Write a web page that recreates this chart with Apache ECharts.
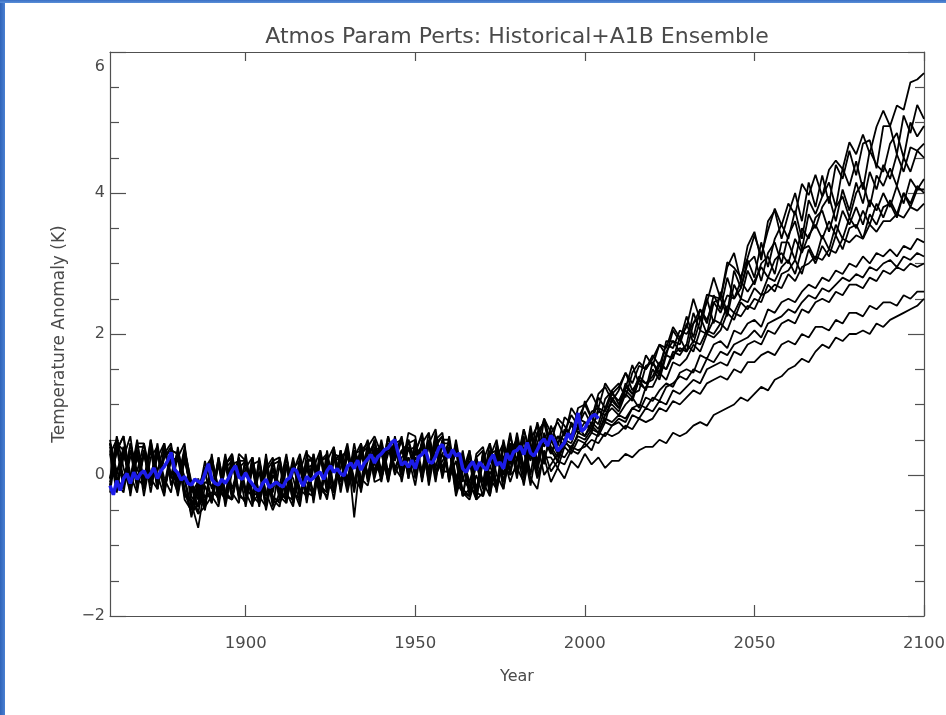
<!DOCTYPE html>
<html>
<head>
<meta charset="utf-8">
<script src="https://cdn.jsdelivr.net/npm/echarts@6/dist/echarts.min.js"></script>
<style>
html,body{margin:0;padding:0;background:#fff;}
#chart{position:absolute;left:0;top:0;width:946px;height:715px;}
#bl{position:absolute;left:0;top:0;width:5px;height:715px;background:linear-gradient(to right,#2f63b8,#4a80d2);}
#bt{position:absolute;left:0;top:0;width:946px;height:3px;background:linear-gradient(to bottom,#3a6fc4,#5a8fd8);}
</style>
</head>
<body>
<div id="chart"></div>
<div id="bl"></div>
<div id="bt"></div>
<script>
const titleText = 'Atmos Param Perts: Historical+A1B Ensemble';
const xName = 'Year';
const yName = 'Temperature Anomaly (K)';
const xTicks = [1900, 1950, 2000, 2050, 2100];

const years = [
1860,1862,1864,1866,1868,1870,1872,1874,1876,1878,1880,1882,1884,1886,1888,1890,1892,1894,1896,1898,
1900,1902,1904,1906,1908,1910,1912,1914,1916,1918,1920,1922,1924,1926,1928,1930,1932,1934,1936,1938,
1940,1942,1944,1946,1948,1950,1952,1954,1956,1958,1960,1962,1964,1966,1968,1970,1972,1974,1976,1978,
1980,1982,1984,1986,1988,1990,1992,1994,1996,1998,2000,2002,2004,2006,2008,2010,2012,2014,2016,2018,
2020,2022,2024,2026,2028,2030,2032,2034,2036,2038,2040,2042,2044,2046,2048,2050,2052,2054,2056,2058,
2060,2062,2064,2066,2068,2070,2072,2074,2076,2078,2080,2082,2084,2086,2088,2090,2092,2094,2096,2098,2100];

const ens01 = [
.45,.05,.35,-.15,.3, -.2,.4,.05,.45,-.05, .3,-.25,-.5,-.1,-.45, .15,-.35,.25,-.3,.1,
.2,-.4,.05,-.45,.1, -.35,.15,-.4,.25,-.1, -.3,.3,-.15,.35,-.1, .4,-.15,.45,0,.5,
.05,.55,.2,.5,-.05, .5,.05,.6,.1,.5, .5,-.15,.3,-.25,.25, .35,-.2,.4,0,.55,
.2,.65,.3,.75,.4, .6,.41,.82,.73,.64, 1.05,.81,.72,1.08,1.19, 1.0,1.23,1.56,1.29,1.22,
1.6,1.45,1.9,1.9,1.85, 2.15,1.87,2.19,2.56,2.53, 2.5,3.02,2.94,2.81,3.08, 3.4,3.11,3.47,3.78,3.54,
3.85,3.69,4.13,3.97,4.26, 3.95,4.33,4.46,4.34,4.72, 4.55,4.83,4.56,4.94,5.17, 4.95,5.24,5.18,5.57,5.61, 5.7];

const ens02 = [
-.25,.4,-.05,.35,-.2, .3,-.15,.35,-.25,.3, -.2,.3,-.15,-.55,.05, -.35,.15,-.4,.2,-.3,
-.35,.15,-.4,.1,-.45, .15,-.4,.2,-.35,.3, .2,-.3,.35,-.2,.35, -.15,.35,-.1,.45,.05,
.45,-.05,.55,.05,.5, -.05,.5,.05,.6,.05, .05,.45,-.3,.3,-.35, .2,.45,-.15,.5,.05,
.6,.1,.7,.15,.8, .45,.8,.7,.55,.95, 1.0,.8,1.15,1.25,1.05, 1.2,1.45,1.2,1.35,1.7,
1.55,1.85,1.8,2.1,1.95, 2.1,2.5,2.2,2.45,2.8, 2.5,2.95,3.15,2.75,3.25, 3.45,3.05,3.6,3.75,3.35,
3.7,4.0,3.6,4.15,3.8, 4.25,3.85,4.4,4.2,4.6, 4.25,4.7,4.75,4.35,4.95, 4.95,4.55,5.1,4.85,5.25, 5.05];

const ens03 = [
.45,-.1,.3,-.05,.5, -.15,.45,-.2,.35,0, .35,-.05,-.6,-.2,.1, .25,-.3,.15,.3,-.35,
.1,.25,-.3,.15,-.35, -.45,.1,-.05,-.4,.2, -.35,.2,.3,-.25,.25, .35,-.05,-.2,.4,.55,
.3,-.05,.45,.1,.6, .55,-.1,.45,.65,0, .4,-.2,.25,-.1,-.35, -.25,.3,.35,-.1,.45,
-.05,.55,0,.6,.75, .3,.55,.4,.75,.6, .65,.9,.95,.75,1.1, .95,1.3,1.15,1.2,1.55,
1.6,1.4,1.75,1.9,1.75, 1.85,2.3,2.05,2.5,2.15, 2.6,2.3,2.9,2.65,3.05, 2.8,3.3,2.95,3.35,3.55,
3.35,3.75,3.35,3.9,3.7, 3.95,4.15,3.8,4.35,4.1, 4.45,4.05,4.6,4.4,4.3, 4.7,4.85,4.5,5.0,4.8, 4.95];

const ens04 = [
-.05,.55,.1,-.25,.4, .4,-.05,-.2,.3,.45, -.2,.35,-.4,-.75,-.15, -.4,.25,-.25,-.35,.25,
-.25,-.45,.25,-.3,.2, .25,-.25,-.45,.2,-.3, .3,-.25,.25,-.2,.35, -.2,.3,.35,-.05,.35,
-.1,.4,.5,-.1,.4, 0,.45,-.1,.5,.6, -.05,.35,-.25,-.3,.3, .4,-.15,.25,.45,0,
.5,-.05,.5,.7,.15, .7,.45,.6,.85,.7, .9,.7,1.1,.95,1.2, 1.3,1.1,1.45,1.6,1.5,
1.65,1.85,1.7,2.05,1.9, 2.25,1.95,2.35,2.15,2.55, 2.35,2.8,2.5,2.65,3.0, 3.1,2.75,3.15,3.3,3.0,
3.4,3.6,3.2,3.7,3.5, 3.8,3.95,3.6,4.05,3.75, 4.15,3.85,4.3,4.05,4.4, 4.2,4.55,4.3,4.65,4.6, 4.7];

const ens05 = [
.5,-.05,-.2,.45,-.05, .35,-.25,.3,-.15,.35, .3,-.35,-.5,-.05,-.4, .2,-.25,.3,-.25,-.4,
.3,-.3,.15,-.5,0, -.2,-.35,.05,.3,-.25, .2,-.1,-.35,.2,.3, -.15,.45,-.05,-.15,.3,
.4,0,.3,.55,-.05, .45,0,.5,.05,.3, .45,-.05,.25,-.3,.15, -.2,.35,-.25,.4,.05,
.45,0,.6,.05,.55, .35,.2,.5,.45,.7, .55,.75,.65,.95,1.0, .9,1.15,1.05,1.35,1.2,
1.5,1.35,1.7,1.65,1.95, 1.75,2.15,2.25,2.0,2.45, 2.5,2.25,2.7,2.5,2.9, 2.7,3.0,3.1,2.85,3.3,
3.3,3.05,3.5,3.35,3.65, 3.75,3.45,3.8,3.95,3.65, 4.0,4.15,3.8,4.25,4.1, 4.35,4.1,4.5,4.3,4.6, 4.5];

const ens06 = [
-.15,.35,.55,-.3,.3, -.2,.5,0,-.3,.4, -.1,.4,-.15,-.45,-.3, -.3,-.45,.15,.25,-.25,
-.4,.25,-.35,.25,-.4, -.35,.25,-.25,-.35,.1, .15,-.35,.2,.4,-.2, .3,-.2,.35,.45,0,
.5,.05,.25,.5,.05, .3,.6,.05,.4,.55, -.1,.45,-.1,.35,-.25, .3,-.25,.45,.1,.6,
.05,.65,.25,.45,.8, .6,.75,.55,.95,.8, 1.0,1.15,.95,1.3,1.15, 1.25,1.45,1.3,1.55,1.5,
1.7,1.55,1.85,1.8,2.05, 2.0,2.15,2.35,2.2,2.45, 2.3,2.55,2.5,2.75,2.6, 2.75,2.95,2.8,3.05,3.15,
3.0,3.35,3.15,3.4,3.55, 3.35,3.6,3.4,3.75,3.55, 3.8,3.55,3.9,3.75,4.0, 3.8,4.1,3.85,4.2,4.05, 4.2];

const ens07 = [
.4,-.2,.25,.55,-.15, .3,-.05,.45,-.2,.25, -.3,.25,-.25,-.1,-.5, .25,-.2,-.35,.15,.2,
-.3,.15,.2,-.4,.1, -.15,.3,-.3,.1,-.35, .1,.35,-.25,.25,-.2, .4,-.6,.3,-.05,.4,
.05,.45,.1,-.05,.5, .15,.45,0,.55,.1, .4,-.25,.1,-.1,.25, -.1,.45,0,-.2,.45,
0,.5,.2,.6,.25, .5,.3,.65,.55,.8, .75,.6,.95,.9,1.15, 1.05,1.25,1.15,1.4,1.3,
1.4,1.6,1.5,1.75,1.7, 1.85,1.75,2.05,2.0,2.2, 2.15,2.4,2.3,2.5,2.45, 2.65,2.55,2.8,2.75,2.95,
3.05,2.85,3.2,3.25,3.05, 3.4,3.2,3.55,3.35,3.65, 3.5,3.75,3.55,3.85,3.65, 3.9,3.7,4.0,3.85,4.1, 4.0];

const ens08 = [
-.1,.45,.35,-.1,.45, .45,-.15,.35,-.05,-.25, .4,-.2,-.55,-.4,.05, -.4,.2,-.3,-.35,.3,
.2,-.4,-.25,.15,-.3, -.4,-.2,.25,-.3,.2, .25,-.2,-.3,.3,.25, -.1,.35,-.2,.4,.15,
0,.55,.05,.35,.45, .5,-.05,.45,0,.3, 0,.4,-.3,.2,-.35, .35,-.05,-.2,.4,.15,
.55,.1,.35,.6,.75, .4,.25,.5,.35,.6, .55,.7,.6,.85,.95, .85,1.0,1.1,.95,1.25,
1.25,1.45,1.35,1.6,1.55, 1.65,1.85,1.75,2.0,1.95, 2.05,2.3,2.2,2.45,2.35, 2.5,2.45,2.7,2.6,2.85,
2.9,3.05,2.85,3.2,3.0, 3.25,3.1,3.4,3.2,3.5, 3.55,3.35,3.7,3.55,3.8, 3.85,3.65,4.0,3.8,4.05, 4.05];

const ens09 = [
.35,-.1,-.25,.35,-.05, -.15,.4,-.1,.25,.4, -.1,.35,-.3,-.45,-.1, -.15,-.35,.1,.2,-.3,
-.35,.1,-.45,.1,.25, -.3,-.4,.1,.2,-.25, -.3,.2,.25,-.15,.1, .45,-.15,.25,.5,-.1,
-.05,.3,.45,.05,.25, .05,.45,.6,-.05,.45, .45,-.1,.35,-.2,.25, -.2,.25,.5,-.1,.35,
.5,.05,.65,.2,.5, .3,.55,.5,.7,.6, .75,.65,.9,.85,1.05, .95,1.2,1.1,1.35,1.3,
1.35,1.55,1.5,1.7,1.8, 1.75,1.9,1.85,2.05,2.0, 2.15,2.05,2.3,2.25,2.4, 2.35,2.55,2.6,2.7,2.65,
2.85,2.75,2.95,3.0,3.1, 3.05,3.2,3.15,3.35,3.3, 3.4,3.35,3.55,3.45,3.6, 3.6,3.7,3.65,3.8,3.75, 3.85];

const ens10 = [
.3,.5,-.15,.25,.35, -.3,.25,.4,-.2,.2, .25,.45,-.45,-.2,-.5, .3,-.4,.25,-.2,.15,
-.25,.25,-.3,-.45,.15, .2,-.3,-.35,.25,-.4, .2,-.25,.15,-.35,.25, -.2,.25,.45,-.1,.35,
.4,-.1,.35,.5,.05, .3,.4,-.05,.45,.55, -.1,.5,-.05,-.2,-.25, .3,-.3,.2,.25,.45,
.35,-.15,.4,0,.25, .25,.1,.4,.3,.5, .45,.6,.55,.75,.7, .8,.75,.95,.9,1.1,
1.05,1.2,1.3,1.25,1.45, 1.5,1.45,1.7,1.65,1.85, 1.9,1.8,2.05,2.0,2.15, 2.2,2.1,2.35,2.3,2.45,
2.5,2.45,2.6,2.7,2.65, 2.8,2.75,2.9,2.85,3.0, 2.95,3.1,3.0,3.15,3.1, 3.2,3.1,3.25,3.2,3.35, 3.3];

const ens11 = [
.45,0,.4,-.2,.25, -.05,.35,-.2,.4,0, -.25,.2,-.2,-.3,.2, -.2,.2,-.45,.05,.2,
.2,-.35,.2,-.25,-.5, -.25,.15,-.4,.05,.35, -.4,.25,-.25,.4,-.25, .3,-.25,.4,0,.2,
.45,-.05,.5,0,.25, -.15,.45,.05,.5,-.05, .4,-.3,.05,.35,-.2, .25,-.1,.35,-.2,.3,
.5,0,.45,.1,.6, .35,.2,.45,.4,.55, .5,.65,.6,.8,.75, .85,.8,.95,1.0,.95,
1.1,1.05,1.25,1.3,1.4, 1.35,1.5,1.45,1.65,1.6, 1.75,1.7,1.85,1.9,1.95, 2.05,1.95,2.15,2.2,2.25,
2.35,2.3,2.45,2.55,2.5, 2.65,2.6,2.7,2.8,2.75, 2.85,2.8,2.95,2.9,3.0, 3.05,2.95,3.1,3.05,3.15, 3.1];

const ens12 = [
-.15,.35,.55,0,-.25, .35,-.1,.25,.45,-.15, .25,-.3,-.35,-.55,-.45, -.3,.25,-.25,-.35,.25,
-.2,-.3,-.4,.3,-.35, -.35,.25,-.2,-.45,.2, .2,-.3,.2,-.2,.3, -.05,.35,-.25,.3,.45,
-.05,.4,0,.25,.35, .4,-.05,.45,-.1,.5, -.05,.2,-.3,-.2,-.25, -.3,.15,-.2,.25,-.1,
.2,.4,-.05,-.2,.35, .05,.2,.15,.35,.3, .45,.35,.6,.55,.7, .75,.65,.85,.8,.95,
.9,1.05,1.0,1.2,1.15, 1.25,1.35,1.3,1.5,1.55, 1.6,1.55,1.75,1.7,1.85, 1.9,1.85,2.05,2.0,2.15,
2.2,2.15,2.35,2.3,2.45, 2.5,2.45,2.6,2.55,2.7, 2.7,2.65,2.8,2.75,2.9, 2.85,2.95,2.9,3.0,2.95, 3.0];

const ens13 = [
.3,-.25,.4,-.1,.45, -.1,.5,-.15,.25,.35, .3,-.05,-.45,-.15,-.3, -.25,-.3,.15,-.35,.1,
-.45,.1,-.35,.05,.2, -.25,-.35,.2,-.2,-.3, .3,-.15,-.25,.25,.2, -.25,.2,.3,.4,-.05,
.35,-.1,.45,.5,0, .35,.55,-.15,.4,0, .55,-.05,-.2,-.3,.2, -.1,-.3,.3,-.1,.25,
.25,.35,-.15,.45,0, .15,.3,.25,.4,.35, .4,.5,.45,.6,.55, .6,.7,.65,.8,.75,
.8,.95,.9,1.05,1.0, 1.1,1.2,1.15,1.3,1.35, 1.4,1.35,1.5,1.45,1.6, 1.6,1.7,1.75,1.7,1.85,
1.9,1.85,2.0,1.95,2.1, 2.1,2.05,2.2,2.15,2.3, 2.3,2.25,2.4,2.35,2.45, 2.45,2.4,2.55,2.5,2.6, 2.6];

const ens14 = [
-.05,.4,-.2,.45,.05, .45,0,.35,-.25,.25, -.1,.35,-.1,-.35,.1, .2,-.2,-.3,.3,-.25,
.2,-.25,-.3,.2,-.25, .25,-.3,.2,-.3,.1, -.25,.35,-.1,-.25,.35, -.1,.3,-.15,.2,.5,
-.05,.45,.1,.35,.05, .25,.05,.45,0,.2, .35,-.1,-.25,-.35,0, -.3,.05,-.15,.15,0,
.1,-.1,.35,-.05,.25, -.1,.1,-.05,.2,.1, .3,.15,.25,.1,.2, .2,.3,.25,.35,.4,
.4,.5,.45,.6,.55, .6,.7,.75,.7,.85, .9,.95,1.0,1.1,1.05, 1.15,1.25,1.2,1.35,1.4,
1.5,1.55,1.65,1.6,1.75, 1.85,1.8,1.95,1.9,2.0, 2.0,2.05,2.0,2.15,2.1, 2.2,2.25,2.3,2.35,2.4, 2.5];

const obsYears = [
1860,1861,1862,1863,1864,1865,1866,1867,1868,1869,1870,1871,1872,1873,1874,1875,1876,1877,1878,1879,
1880,1881,1882,1883,1884,1885,1886,1887,1888,1889,1890,1891,1892,1893,1894,1895,1896,1897,1898,1899,
1900,1901,1902,1903,1904,1905,1906,1907,1908,1909,1910,1911,1912,1913,1914,1915,1916,1917,1918,1919,
1920,1921,1922,1923,1924,1925,1926,1927,1928,1929,1930,1931,1932,1933,1934,1935,1936,1937,1938,1939,
1940,1941,1942,1943,1944,1945,1946,1947,1948,1949,1950,1951,1952,1953,1954,1955,1956,1957,1958,1959,
1960,1961,1962,1963,1964,1965,1966,1967,1968,1969,1970,1971,1972,1973,1974,1975,1976,1977,1978,1979,
1980,1981,1982,1983,1984,1985,1986,1987,1988,1989,1990,1991,1992,1993,1994,1995,1996,1997,1998,1999,
2000,2001,2002,2003,2004];

const obsAnomaly = [
-.15,-.28,-.08,-.22,-.05,.02,-.12,.04,-.06,.02,
.06,-.04,.02,.1,-.05,.06,.12,.2,.32,.08,
.03,-.07,-.02,-.12,-.14,-.06,-.09,-.12,.02,.16,
-.06,-.12,-.14,-.06,-.12,-.04,.06,.13,-.03,-.06,
.03,-.07,-.13,-.2,-.22,-.12,-.06,-.18,-.14,-.1,
-.14,-.17,-.07,-.04,.09,.06,-.07,-.16,-.02,-.08,
-.04,.02,.04,-.06,.06,.13,.04,.09,.02,-.01,
.12,.17,.09,.21,.07,.17,.23,.29,.17,.26,
.3,.36,.38,.46,.5,.3,.14,.19,.11,.21,
.09,.26,.29,.36,.19,.17,.26,.39,.43,.29,
.25,.36,.27,.31,.09,.04,.13,.19,.07,.18,
.12,.07,.21,.29,.14,.18,.09,.31,.21,.33,
.35,.41,.29,.46,.31,.27,.36,.46,.51,.41,
.56,.49,.34,.4,.46,.59,.5,.66,.88,.62,
.66,.76,.83,.86,.8];

const ensemble = [ens01,ens02,ens03,ens04,ens05,ens06,ens07,ens08,ens09,ens10,ens11,ens12,ens13,ens14];

const FONT = 'DejaVu Sans';
const TXT = '#4a4a4a';
const AX = '#505050';

const series = ensemble.map((vals, k) => ({
  name: 'member' + (k + 1),
  type: 'line',
  data: years.map((y, i) => [y, vals[i]]),
  showSymbol: false,
  symbol: 'none',
  lineStyle: { color: '#000', width: 1.8 },
  z: 2,
  silent: true
}));
series.push({
  name: 'obs',
  type: 'line',
  data: obsYears.map((y, i) => [y, obsAnomaly[i]]),
  showSymbol: false,
  symbol: 'none',
  lineStyle: { color: '#1c1ce8', width: 3.5 },
  z: 5,
  silent: true
});

const chart = echarts.init(document.getElementById('chart'), null, { renderer: 'canvas' });
chart.setOption({
  animation: false,
  backgroundColor: '#fff',
  title: {
    text: titleText,
    left: 517,
    textAlign: 'center',
    top: 26,
    padding: 0,
    textStyle: { fontFamily: FONT, fontSize: 22, fontWeight: 'normal', color: TXT }
  },
  grid: { left: 110, right: 22, top: 52, bottom: 99, containLabel: false, outerBoundsMode: 'none' },
  xAxis: [
    {
      type: 'value', min: 1860, max: 2100, position: 'bottom',
      name: xName, nameLocation: 'middle', nameGap: 53,
      nameTextStyle: { fontFamily: FONT, fontSize: 16, color: TXT },
      axisLine: { show: true, onZero: false, lineStyle: { color: AX, width: 1.2 } },
      axisTick: { show: true, inside: true, length: 11, customValues: xTicks, lineStyle: { color: AX, width: 1.2 } },
      axisLabel: { show: true, customValues: xTicks, margin: 19, fontFamily: FONT, fontSize: 16.5, color: TXT, formatter: v => String(v) },
      splitLine: { show: false }
    },
    {
      type: 'value', min: 1860, max: 2100, position: 'top',
      axisLine: { show: true, onZero: false, lineStyle: { color: AX, width: 1.2 } },
      axisTick: { show: true, inside: true, length: 9, customValues: xTicks, lineStyle: { color: AX, width: 1.2 } },
      axisLabel: { show: false },
      splitLine: { show: false }
    }
  ],
  yAxis: [
    {
      type: 'value', min: -2, max: 6, interval: 2, position: 'left',
      name: yName, nameLocation: 'middle', nameGap: 42,
      nameTextStyle: { fontFamily: FONT, fontSize: 17, color: TXT },
      axisLine: { show: true, onZero: false, lineStyle: { color: AX, width: 1.2 } },
      axisTick: { show: true, inside: true, length: 16, lineStyle: { color: AX, width: 1.2 } },
      minorTick: { show: true, splitNumber: 4, length: 9, lineStyle: { color: AX, width: 1.2 } },
      axisLabel: {
        margin: 5, fontFamily: FONT, fontSize: 16, color: TXT,
        formatter: v => v === 6 ? '{t|6}' : (v < 0 ? '\u2212' + Math.abs(v) : String(v)),
        rich: { t: { fontFamily: FONT, fontSize: 16, color: TXT, padding: [30, 0, 0, 0] } }
      },
      splitLine: { show: false }
    },
    {
      type: 'value', min: -2, max: 6, interval: 2, position: 'right',
      axisLine: { show: true, onZero: false, lineStyle: { color: AX, width: 1.2 } },
      axisTick: { show: true, inside: true, length: 16, lineStyle: { color: AX, width: 1.2 } },
      minorTick: { show: true, splitNumber: 4, length: 9, lineStyle: { color: AX, width: 1.2 } },
      axisLabel: { show: false },
      splitLine: { show: false }
    }
  ],
  series: series
});
</script>
</body>
</html>
